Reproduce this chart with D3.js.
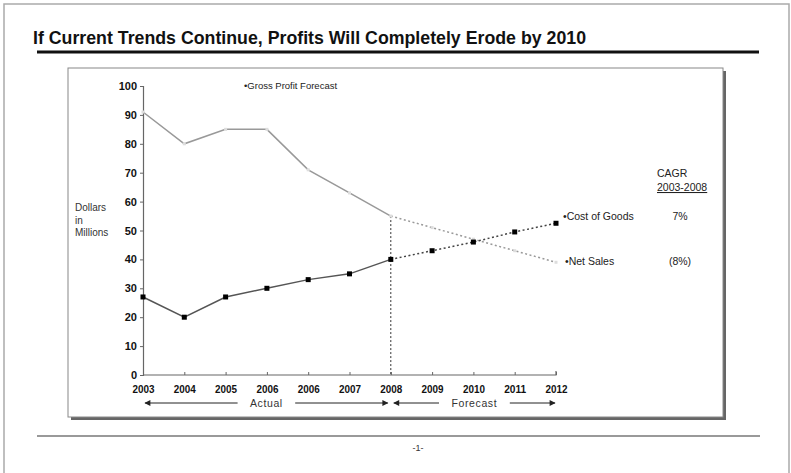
<!DOCTYPE html>
<html>
<head>
<meta charset="utf-8">
<script src="https://cdn.jsdelivr.net/npm/d3@7"></script>
<style>
  body { margin: 0; background: #fff; }
  svg { display: block; }
</style>
</head>
<body>
<svg id="chart" width="791" height="473"></svg>
<script>
// 数据
const years = ["2003", "2004", "2005", "2006", "2006", "2007", "2008", "2009", "2010", "2011", "2012"];
const netSales = [91, 80, 85, 85, 71, 63, 55, 51, 47, 43, 39];
const costOfGoods = [27, 20, 27, 30, 33, 35, 40, 43, 46, 49.5, 52.5];
const actualCount = 7; // 2003..2008 实际值，之后为预测
const yTicks = [0, 10, 20, 30, 40, 50, 60, 70, 80, 90, 100];
const cagrLabels = ["7%", "(8%)"];

const svg = d3.select("#chart");
const sans = "'Liberation Sans', Arial, sans-serif";

// 外框
svg.append("rect")
  .attr("x", 4).attr("y", 4)
  .attr("width", 785).attr("height", 480)
  .attr("fill", "none")
  .attr("stroke", "#aaa")
  .attr("stroke-width", 1.5);

// 标题
svg.append("text")
  .attr("x", 33).attr("y", 44)
  .attr("font-family", sans)
  .attr("font-weight", "bold")
  .attr("font-size", 17.5)
  .attr("textLength", 553)
  .attr("lengthAdjust", "spacingAndGlyphs")
  .attr("fill", "#111")
  .text("If Current Trends Continue, Profits Will Completely Erode by 2010");

svg.append("line")
  .attr("x1", 37).attr("x2", 759)
  .attr("y1", 52).attr("y2", 52)
  .attr("stroke", "#111")
  .attr("stroke-width", 3);

// 图表框 + 阴影
svg.append("rect")
  .attr("x", 71).attr("y", 71)
  .attr("width", 655).attr("height", 349)
  .attr("fill", "#666");
svg.append("rect")
  .attr("x", 68).attr("y", 68)
  .attr("width", 655).attr("height", 349)
  .attr("fill", "#fff")
  .attr("stroke", "#888")
  .attr("stroke-width", 1);

// 页脚
svg.append("line")
  .attr("x1", 37).attr("x2", 760)
  .attr("y1", 436).attr("y2", 436)
  .attr("stroke", "#999")
  .attr("stroke-width", 2);
svg.append("text")
  .attr("x", 418).attr("y", 451)
  .attr("text-anchor", "middle")
  .attr("font-family", sans)
  .attr("font-size", 9)
  .attr("fill", "#333")
  .text("-1-");

// 比例尺
const x = d3.scalePoint()
  .domain(d3.range(years.length))
  .range([143, 556]);

const y = d3.scaleLinear()
  .domain([0, 100])
  .range([375, 86]);

// 坐标轴
const yAxis = svg.append("g")
  .attr("transform", `translate(${x(0)},0)`)
  .call(d3.axisLeft(y).tickValues(yTicks).tickSize(3).tickPadding(3));
const xAxis = svg.append("g")
  .attr("transform", `translate(0,${y(0)})`)
  .call(d3.axisBottom(x).tickFormat(i => years[i]).tickSizeInner(-3).tickSizeOuter(-3).tickPadding(10));

[yAxis, xAxis].forEach(g => {
  g.select(".domain").attr("stroke", "#666").attr("stroke-width", 1.2);
  g.selectAll(".tick line").attr("stroke", "#666");
  g.selectAll(".tick text")
    .attr("font-family", sans)
    .attr("font-weight", "bold")
    .attr("font-size", 11)
    .attr("fill", "#111");
});
// 标签略窄
xAxis.selectAll(".tick text").attr("textLength", 22).attr("lengthAdjust", "spacingAndGlyphs");
xAxis.select(".domain").attr("d", `M${x(0)},0H${x(years.length - 1)}V-4`);

// y轴说明
svg.append("text")
  .attr("font-family", sans)
  .attr("font-size", 10)
  .attr("fill", "#333")
  .selectAll("tspan")
  .data(["Dollars", "in", "Millions"])
  .join("tspan")
  .attr("x", 75)
  .attr("y", (d, i) => 211 + i * 12.5)
  .text(d => d);

// 2008 分隔虚线
const splitIdx = actualCount - 1;
svg.append("line")
  .attr("x1", x(splitIdx)).attr("x2", x(splitIdx))
  .attr("y1", y(netSales[splitIdx])).attr("y2", y(0))
  .attr("stroke", "#333")
  .attr("stroke-width", 1)
  .attr("stroke-dasharray", "2,2");

// 折线
const line = d3.line()
  .x(d => x(d[0]))
  .y(d => y(d[1]));

function drawSeries(values, color, dotted) {
  const pts = values.map((v, i) => [i, v]);
  svg.append("path")
    .datum(pts.slice(0, actualCount))
    .attr("d", line)
    .attr("fill", "none")
    .attr("stroke", color)
    .attr("stroke-width", 1.5);
  svg.append("path")
    .datum(pts.slice(actualCount - 1))
    .attr("d", line)
    .attr("fill", "none")
    .attr("stroke", dotted)
    .attr("stroke-width", 1.5)
    .attr("stroke-dasharray", "2,2.5");
  return pts;
}

const nsPts = drawSeries(netSales, "#999", "#999");
const cgPts = drawSeries(costOfGoods, "#555", "#444");

svg.append("g").selectAll("rect")
  .data(nsPts)
  .join("rect")
  .attr("x", d => x(d[0]) - 1.5)
  .attr("y", d => y(d[1]) - 1.5)
  .attr("width", 3).attr("height", 3)
  .attr("fill", "#ddd");

svg.append("g").selectAll("rect")
  .data(cgPts)
  .join("rect")
  .attr("x", d => x(d[0]) - 2.5)
  .attr("y", d => y(d[1]) - 2.5)
  .attr("width", 5).attr("height", 5)
  .attr("fill", "#000");

// 图例文字
const labelFont = g => g.attr("font-family", sans).attr("font-size", 10.5).attr("fill", "#222");

svg.append("text").call(labelFont)
  .attr("x", 244).attr("y", 89)
  .attr("font-size", 9.5)
  .text("•Gross Profit Forecast");

const last = years.length - 1;
svg.append("text").call(labelFont)
  .attr("x", 563).attr("y", y(costOfGoods[last]) - 3)
  .text("•Cost of Goods");
svg.append("text").call(labelFont)
  .attr("x", 565).attr("y", y(netSales[last]) + 3)
  .text("•Net Sales");

svg.append("text").call(labelFont)
  .attr("x", 657).attr("y", 177)
  .text("CAGR");
svg.append("text").call(labelFont)
  .attr("x", 657).attr("y", 191)
  .attr("text-decoration", "underline")
  .text("2003-2008");

svg.append("g").selectAll("text")
  .data(cagrLabels)
  .join("text")
  .call(labelFont)
  .attr("x", 680)
  .attr("y", (d, i) => i === 0 ? y(costOfGoods[last]) - 3 : y(netSales[last]) + 3)
  .attr("text-anchor", "middle")
  .text(d => d);

// 实际 / 预测 箭头
const defs = svg.append("defs");
defs.append("marker")
  .attr("id", "arrow")
  .attr("viewBox", "0 0 10 10")
  .attr("refX", 9).attr("refY", 5)
  .attr("markerWidth", 9).attr("markerHeight", 6)
  .attr("markerUnits", "userSpaceOnUse")
  .attr("orient", "auto")
  .append("path")
  .attr("d", "M0,0L10,5L0,10Z")
  .attr("fill", "#222");

const arrowY = 403;
function spanArrow(x0, x1, label) {
  const mid = (x0 + x1) / 2;
  const half = label.length * 3.3 + 9;
  svg.append("line")
    .attr("x1", mid - half).attr("x2", x0)
    .attr("y1", arrowY).attr("y2", arrowY)
    .attr("stroke", "#222").attr("stroke-width", 1)
    .attr("marker-end", "url(#arrow)");
  svg.append("line")
    .attr("x1", mid + half).attr("x2", x1)
    .attr("y1", arrowY).attr("y2", arrowY)
    .attr("stroke", "#222").attr("stroke-width", 1)
    .attr("marker-end", "url(#arrow)");
  svg.append("text").call(labelFont)
    .attr("x", mid).attr("y", arrowY + 3.5)
    .attr("text-anchor", "middle")
    .attr("fill", "#333")
    .attr("letter-spacing", 0.6)
    .text(label);
}
spanArrow(x(0) + 2, x(splitIdx) - 3, "Actual");
spanArrow(x(splitIdx) + 3, x(last) - 1, "Forecast");
</script>
</body>
</html>
